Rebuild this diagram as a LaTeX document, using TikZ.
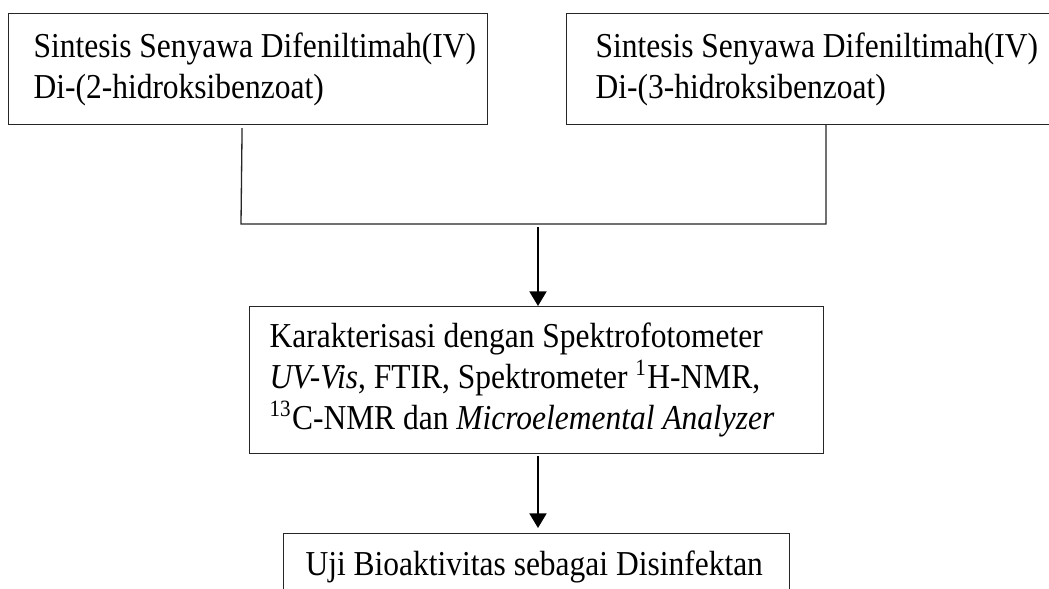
\documentclass[tikz,border=0pt]{standalone}
\usepackage{fontspec}
\setmainfont{Liberation Serif}[FakeStretch=0.9]
\usetikzlibrary{arrows.meta}
\def\pxl{0.343pt}
\begin{document}
\begin{tikzpicture}[x=0.343pt,y=-0.343pt,
  box/.style={draw=black!85, line width=0.4pt, inner sep=0pt, anchor=north west},
  txt/.style={anchor=west, align=left, inner sep=0pt, font=\fontsize{12}{14}\selectfont},
  line/.style={draw=black!85, line width=0.45pt},
  arr/.style={draw=black, line width=0.75pt, -{Triangle[length=5pt,width=5.8pt]}}]
\clip (0,0) rectangle (1049,589);
\fill[white] (0,0) rectangle (1049,589);
% boxes
\node[box, minimum width=479*\pxl, minimum height=111*\pxl] (b1) at (8,13) {};
\node[box, minimum width=520*\pxl, minimum height=111*\pxl] (b2) at (566,13) {};
\node[box, minimum width=574*\pxl, minimum height=147*\pxl] (b3) at (249,306) {};
\node[box, minimum width=506*\pxl, minimum height=64*\pxl] (b4) at (283,533) {};
% texts
\node[txt] (t1) at ([xshift=25*\pxl]b1.west) {Sintesis Senyawa Difeniltimah(IV)\\Di-(2-hidroksibenzoat)};
\node[txt] (t2) at ([xshift=29*\pxl]b2.west) {Sintesis Senyawa Difeniltimah(IV)\\Di-(3-hidroksibenzoat)};
\node[txt] (t3) at ([xshift=20*\pxl]b3.west) {Karakterisasi dengan Spektrofotometer\\\textit{UV-Vis}, FTIR, Spektrometer \textsuperscript{1}H-NMR,\\\textsuperscript{13}C-NMR dan \textit{Microelemental Analyzer}};
\node[txt] (t4) at ([xshift=22*\pxl,yshift=-1*\pxl]b4.west) {Uji Bioaktivitas sebagai Disinfektan};
% bracket
\coordinate (bl) at (241,224);
\coordinate (br) at (826,224);
\coordinate (bm) at (538,224);
\draw[line] ([xshift=-6*\pxl,yshift=-3*\pxl]b1.south) -- (bl) -- (br) -- (b2.south -| br);
% arrows
\draw[arr] ([yshift=-3*\pxl]bm) -- (bm |- b3.north);
\draw[arr] ([yshift=-2*\pxl]b3.south -| bm) -- ([yshift=5*\pxl]b4.north -| bm);
\end{tikzpicture}
\end{document}
